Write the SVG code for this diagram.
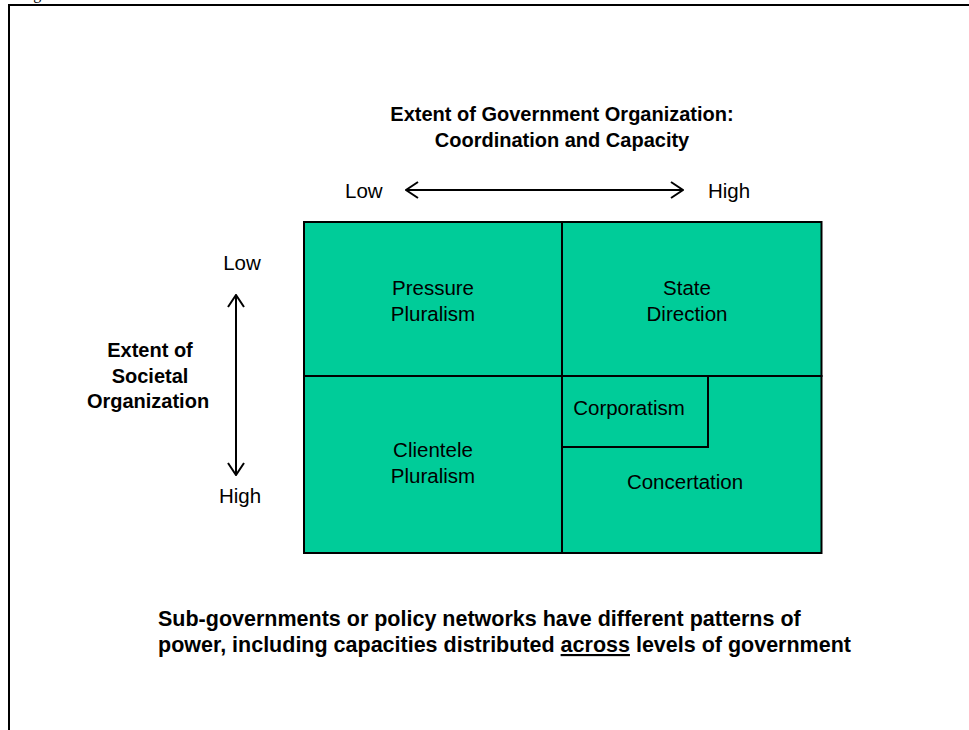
<svg xmlns="http://www.w3.org/2000/svg" width="969" height="730" viewBox="0 0 969 730">
<style>
.t{font-family:"Liberation Sans",Arial,sans-serif;font-size:20.5px;fill:#000}
.b{font-weight:bold;font-size:20px}
.cap{font-weight:bold;font-size:21.5px}
.c{text-anchor:middle}
.cell{fill:#00CC99;stroke:#000;stroke-width:2}
.ax{stroke:#000;stroke-width:2;fill:none}
</style>
<defs>
<marker id="ah" viewBox="0 0 14 18" refX="13" refY="9" markerWidth="14" markerHeight="18" markerUnits="userSpaceOnUse" orient="auto-start-reverse">
<path d="M1,1 L13,9 L1,17" fill="none" stroke="#000" stroke-width="2"/>
</marker>
</defs>
<rect width="969" height="730" fill="#fff"/>
<text x="20" y="-1" style="font-family:'Liberation Serif','Times New Roman',serif;font-size:16px">Figure</text>
<path d="M9,730 V5 H969" fill="none" stroke="#000" stroke-width="2"/>
<g id="title">
<text class="t b c" x="562" y="121">Extent of Government Organization:</text>
<text class="t b c" x="562" y="147">Coordination and Capacity</text>
</g>
<g id="xaxis-labels">
<text class="t" x="345" y="198">Low</text>
<text class="t" x="708" y="198">High</text>
</g>
<g id="yaxis-labels">
<text class="t c" x="242" y="270">Low</text>
<text class="t c" x="240" y="503">High</text>
<text class="t b c" x="150" y="357">Extent of</text>
<text class="t b c" x="150" y="383">Societal</text>
<text class="t b c" x="148" y="408">Organization</text>
</g>
<g id="connectors">
<line class="ax" x1="406" y1="190" x2="683" y2="190" marker-start="url(#ah)" marker-end="url(#ah)"/>
<line class="ax" x1="236" y1="295" x2="236" y2="475" marker-start="url(#ah)" marker-end="url(#ah)"/>
</g>
<g id="pressure-pluralism">
<rect class="cell" x="304" y="222" width="258" height="154"/>
<text class="t c" x="433" y="295">Pressure</text>
<text class="t c" x="433" y="321">Pluralism</text>
</g>
<g id="state-direction">
<rect class="cell" x="562" y="222" width="259.5" height="154"/>
<text class="t c" x="687" y="295">State</text>
<text class="t c" x="687" y="321">Direction</text>
</g>
<g id="clientele-pluralism">
<rect class="cell" x="304" y="376" width="258" height="177"/>
<text class="t c" x="433" y="457">Clientele</text>
<text class="t c" x="433" y="483">Pluralism</text>
</g>
<g id="concertation">
<rect class="cell" x="562" y="376" width="259.5" height="177"/>
<text class="t c" x="685" y="489">Concertation</text>
</g>
<g id="corporatism">
<rect class="cell" x="562" y="376" width="146" height="71"/>
<text class="t c" x="629" y="415">Corporatism</text>
</g>
<g id="caption">
<text class="t cap" x="158" y="626">Sub-governments or policy networks have different patterns of</text>
<text class="t cap" x="158" y="652">power, including capacities distributed <tspan text-decoration="underline">across</tspan> levels of government</text>
</g>
</svg>
